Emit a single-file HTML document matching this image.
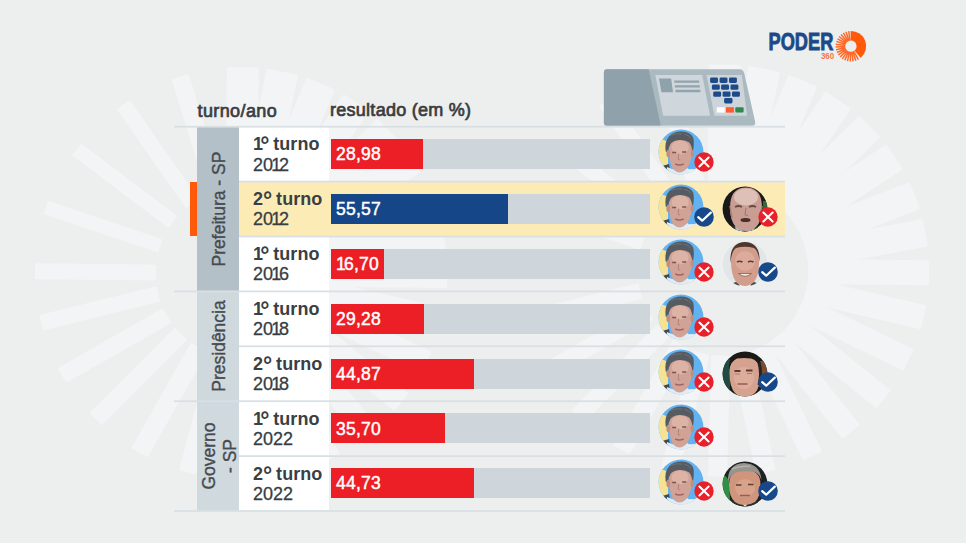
<!DOCTYPE html>
<html><head><meta charset="utf-8">
<style>
html,body{margin:0;padding:0;}
body{width:966px;height:543px;overflow:hidden;position:relative;background:#edeeee;font-family:"Liberation Sans",sans-serif;}
.abs{position:absolute;}
#bg{position:absolute;left:0;top:0;}
.hdr{position:absolute;font-size:18px;color:#383d42;-webkit-text-stroke:0.7px #383d42;white-space:nowrap;line-height:1;}
.hline{position:absolute;height:1px;background:#d3dbdf;}
.cell{position:absolute;left:239px;width:90px;background:#fff;}
.turno{position:absolute;left:253px;font-size:18px;color:#383d42;line-height:20px;white-space:nowrap;}
.turno b{font-weight:bold;letter-spacing:0.05px;color:#3a3f44;}
.turno i{font-style:normal;}
.n1{letter-spacing:-2.8px;}
.deg{font-size:23px;line-height:0;vertical-align:-2.8px;font-weight:bold;letter-spacing:-1.2px;}
.n0{letter-spacing:-1.9px;}
.n1y{letter-spacing:-2.2px;}
.yr{-webkit-text-stroke:0.3px #383d42;}
.track{position:absolute;left:331px;width:319px;height:30px;background:#ced6dc;}
.bar{position:absolute;left:0;top:0;height:30px;background:#ec1f26;}
.bar span{position:absolute;left:5px;top:7.2px;font-size:17.5px;letter-spacing:0.25px;color:#fff;-webkit-text-stroke:0.45px #fff;line-height:1;}
.bar span i{font-style:normal;letter-spacing:-1.8px;}
.cat{position:absolute;left:197px;width:42px;}
.catlbl{position:absolute;font-size:17.5px;color:#454b50;-webkit-text-stroke:0.35px #454b50;white-space:nowrap;line-height:21px;text-align:center;}
.av{position:absolute;width:46px;height:46px;}
</style></head>
<body>
<svg width="0" height="0" style="position:absolute"><defs><clipPath id="cc"><circle cx="23" cy="23" r="22.4"/></clipPath></defs></svg>
<svg id="bg" width="966" height="543" viewBox="0 0 966 543"><g fill="#f3f4f5">
<rect x="85" y="-16.0" width="121" height="32" rx="1.5" transform="translate(241 273.4) rotate(-89.5)"/>
<rect x="85" y="-16.0" width="121" height="32" rx="1.5" transform="translate(241 273.4) rotate(-78.4)"/>
<rect x="85" y="-15.5" width="121" height="31" rx="1.5" transform="translate(241 273.4) rotate(-67.2)"/>
<rect x="85" y="-15.5" width="121" height="31" rx="1.5" transform="translate(241 273.4) rotate(-56)"/>
<rect x="85" y="-15.0" width="121" height="30" rx="1.5" transform="translate(241 273.4) rotate(-44.5)"/>
<rect x="85" y="-15.0" width="121" height="30" rx="1.5" transform="translate(241 273.4) rotate(-33.6)"/>
<rect x="85" y="-14.5" width="121" height="29" rx="1.5" transform="translate(241 273.4) rotate(-21.4)"/>
<rect x="85" y="-14.0" width="121" height="28" rx="1.5" transform="translate(241 273.4) rotate(-10.6)"/>
<rect x="85" y="-12.5" width="121" height="25" rx="1.5" transform="translate(241 273.4) rotate(0.6)"/>
<rect x="85" y="-12.25" width="121" height="24.5" rx="1.5" transform="translate(241 273.4) rotate(13.1)"/>
<rect x="85" y="-12.0" width="121" height="24" rx="1.5" transform="translate(241 273.4) rotate(25.7)"/>
<rect x="85" y="-11.5" width="121" height="23" rx="1.5" transform="translate(241 273.4) rotate(38.7)"/>
<rect x="85" y="-11.25" width="121" height="22.5" rx="1.5" transform="translate(241 273.4) rotate(51.5)"/>
<rect x="85" y="-10.5" width="121" height="21" rx="1.5" transform="translate(241 273.4) rotate(64.2)"/>
<rect x="85" y="-10.0" width="121" height="20" rx="1.5" transform="translate(241 273.4) rotate(78)"/>
<rect x="85" y="-9.5" width="121" height="19" rx="1.5" transform="translate(241 273.4) rotate(91.5)"/>
<rect x="85" y="-9.0" width="121" height="18" rx="1.5" transform="translate(241 273.4) rotate(105)"/>
<rect x="85" y="-9.5" width="121" height="19" rx="1.5" transform="translate(241 273.4) rotate(119.5)"/>
<rect x="85" y="-8.75" width="121" height="17.5" rx="1.5" transform="translate(241 273.4) rotate(134.9)"/>
<rect x="85" y="-8.5" width="121" height="17" rx="1.5" transform="translate(241 273.4) rotate(150.3)"/>
<rect x="85" y="-8.0" width="121" height="16" rx="1.5" transform="translate(241 273.4) rotate(166.1)"/>
<rect x="85" y="-8.0" width="121" height="16" rx="1.5" transform="translate(241 273.4) rotate(-179.4)"/>
<rect x="85" y="-7.0" width="121" height="14" rx="1.5" transform="translate(241 273.4) rotate(-161.3)"/>
<rect x="85" y="-7.5" width="121" height="15" rx="1.5" transform="translate(241 273.4) rotate(-143)"/>
<rect x="85" y="-8.0" width="121" height="16" rx="1.5" transform="translate(241 273.4) rotate(-124.9)"/>
<rect x="85" y="-9.0" width="121" height="18" rx="1.5" transform="translate(241 273.4) rotate(-107.2)"/>
<rect x="85" y="-16.0" width="121" height="32" rx="1.5" transform="translate(723 270.6) rotate(-89.5)"/>
<rect x="85" y="-16.0" width="121" height="32" rx="1.5" transform="translate(723 270.6) rotate(-78.4)"/>
<rect x="85" y="-15.5" width="121" height="31" rx="1.5" transform="translate(723 270.6) rotate(-67.2)"/>
<rect x="85" y="-15.5" width="121" height="31" rx="1.5" transform="translate(723 270.6) rotate(-56)"/>
<rect x="85" y="-15.0" width="121" height="30" rx="1.5" transform="translate(723 270.6) rotate(-44.5)"/>
<rect x="85" y="-15.0" width="121" height="30" rx="1.5" transform="translate(723 270.6) rotate(-33.6)"/>
<rect x="85" y="-14.5" width="121" height="29" rx="1.5" transform="translate(723 270.6) rotate(-21.4)"/>
<rect x="85" y="-14.0" width="121" height="28" rx="1.5" transform="translate(723 270.6) rotate(-10.6)"/>
<rect x="85" y="-12.5" width="121" height="25" rx="1.5" transform="translate(723 270.6) rotate(0.6)"/>
<rect x="85" y="-12.25" width="121" height="24.5" rx="1.5" transform="translate(723 270.6) rotate(13.1)"/>
<rect x="85" y="-12.0" width="121" height="24" rx="1.5" transform="translate(723 270.6) rotate(25.7)"/>
<rect x="85" y="-11.5" width="121" height="23" rx="1.5" transform="translate(723 270.6) rotate(38.7)"/>
<rect x="85" y="-11.25" width="121" height="22.5" rx="1.5" transform="translate(723 270.6) rotate(51.5)"/>
<rect x="85" y="-10.5" width="121" height="21" rx="1.5" transform="translate(723 270.6) rotate(64.2)"/>
<rect x="85" y="-10.0" width="121" height="20" rx="1.5" transform="translate(723 270.6) rotate(78)"/>
<rect x="85" y="-9.5" width="121" height="19" rx="1.5" transform="translate(723 270.6) rotate(91.5)"/>
<rect x="85" y="-9.0" width="121" height="18" rx="1.5" transform="translate(723 270.6) rotate(105)"/>
<rect x="85" y="-9.5" width="121" height="19" rx="1.5" transform="translate(723 270.6) rotate(119.5)"/>
<rect x="85" y="-8.75" width="121" height="17.5" rx="1.5" transform="translate(723 270.6) rotate(134.9)"/>
<rect x="85" y="-8.5" width="121" height="17" rx="1.5" transform="translate(723 270.6) rotate(150.3)"/>
<rect x="85" y="-8.0" width="121" height="16" rx="1.5" transform="translate(723 270.6) rotate(166.1)"/>
<rect x="85" y="-8.0" width="121" height="16" rx="1.5" transform="translate(723 270.6) rotate(-179.4)"/>
<rect x="85" y="-7.0" width="121" height="14" rx="1.5" transform="translate(723 270.6) rotate(-161.3)"/>
<rect x="85" y="-7.5" width="121" height="15" rx="1.5" transform="translate(723 270.6) rotate(-143)"/>
<rect x="85" y="-8.0" width="121" height="16" rx="1.5" transform="translate(723 270.6) rotate(-124.9)"/>
<rect x="85" y="-9.0" width="121" height="18" rx="1.5" transform="translate(723 270.6) rotate(-107.2)"/>
</g></svg>
<svg class="abs" style="left:0;top:0" width="966" height="543" viewBox="0 0 966 543">
<text x="768.5" y="49.7" font-family="Liberation Sans" font-weight="bold" font-size="24.5" fill="#1b4a88" stroke="#1b4a88" stroke-width="0.9" textLength="64.8" lengthAdjust="spacingAndGlyphs">PODER</text>
<text x="820.9" y="59.1" font-family="Liberation Sans" font-weight="bold" font-size="9.5" fill="#f4763f" textLength="13.2" lengthAdjust="spacingAndGlyphs">360</text>
<path d="M850.63 30.90 A15.3 15.3 0 0 1 860.73 57.92 L854.50 50.49 A5.6 5.6 0 0 0 850.80 40.60 Z" fill="#ff5a0a"/>
<path d="M853.65 51.08L858.41 59.53M852.71 51.50L855.84 60.68M851.70 51.74L853.09 61.34M850.67 51.80L850.27 61.49M849.65 51.66L847.47 61.11M848.66 51.33L844.79 60.23M847.76 50.84L842.32 58.87M846.96 50.18L840.14 57.07M846.30 49.39L838.32 54.91M845.79 48.49L836.94 52.45M845.46 47.51L836.02 49.78M845.31 46.49L835.62 46.99M845.35 45.45L835.74 44.16M845.58 44.45L836.37 41.41M845.99 43.50L837.50 38.82M846.57 42.64L839.08 36.49M847.30 41.91L841.07 34.48M848.15 41.32L843.39 32.87M849.09 40.90L845.96 31.72M850.10 40.66L848.71 31.06" stroke="#ff6a2a" stroke-width="1.5"/>
</svg>
<svg class="abs" style="left:0;top:0" width="966" height="543" viewBox="0 0 966 543">
<path d="M607 69.2 L739 69.2 Q743.5 69.2 744.3 73.5 L755.2 122 Q755.8 125.8 752 125.8 L607 125.8 Q603.9 125.8 603.9 122.6 L603.9 72.4 Q603.9 69.2 607 69.2 Z" fill="#abb9c1"/>
<path d="M607 69.2 L648.6 69.2 L660.8 125.8 L607 125.8 Q603.9 125.8 603.9 122.6 L603.9 72.4 Q603.9 69.2 607 69.2 Z" fill="#8fa1aa"/>
<path d="M655.3 75 L702.2 75 L710.1 115.8 L663.2 115.8 Z" fill="#cfd7dc"/>
<path d="M659 78.6 L671.1 78.6 L673 92.2 L661.4 92.2 Z" fill="#8fa1aa"/>
<path d="M674.3 81.6 H699.2 M674.9 86.3 H699.8 M675.5 91 H700.4" stroke="#91a3ac" stroke-width="2.3"/>
<path d="M706.5 75 L741.8 75 L747.2 115.8 L714.4 115.8 Z" fill="#cdd5da"/>
<g fill="#1d4a8a">
<rect x="710.1" y="77.4" width="7.9" height="5.5" rx="1.4"/><rect x="719.6" y="77.4" width="7.9" height="5.5" rx="1.4"/><rect x="729" y="77.4" width="7.9" height="5.5" rx="1.4"/>
<rect x="711.9" y="84.5" width="7.9" height="5.3" rx="1.4"/><rect x="721.1" y="84.5" width="7.9" height="5.3" rx="1.4"/><rect x="730.5" y="84.5" width="7.9" height="5.3" rx="1.4"/>
<rect x="713.2" y="91.4" width="7.9" height="5.4" rx="1.4"/><rect x="722.6" y="91.4" width="7.9" height="5.4" rx="1.4"/><rect x="732" y="91.4" width="7.9" height="5.4" rx="1.4"/>
<rect x="724.1" y="98" width="8.4" height="5.5" rx="1.4"/>
</g>
<rect x="716.8" y="107.2" width="7.9" height="5.4" fill="#ffffff"/>
<rect x="726" y="107.2" width="7.9" height="5.4" fill="#ff5b2b"/>
<rect x="735.3" y="107.2" width="8.3" height="5.4" rx="1" fill="#2b8a4c"/>
</svg>

<div class="hdr" style="left:197.5px;top:102.2px;letter-spacing:0.4px;">turno/ano</div>
<div class="hdr" style="left:330px;top:101.2px;letter-spacing:0.27px;">resultado (em %)</div>
<div class="cat" style="top:126.70px;height:164.70px;background:#b4c0c7;"></div>
<div class="catlbl" style="left:219.3px;top:209.05px;transform:translate(-50%,-50%) rotate(-90deg);">Prefeitura - SP</div>
<div class="cat" style="top:291.40px;height:109.80px;background:#cfd8dd;"></div>
<div class="catlbl" style="left:219.3px;top:346.30px;transform:translate(-50%,-50%) rotate(-90deg);">Presidência</div>
<div class="cat" style="top:401.20px;height:109.80px;background:#d0d9de;"></div>
<div class="catlbl" style="left:219.6px;top:456.10px;transform:translate(-50%,-50%) rotate(-90deg);">Governo<br>- SP</div>
<div class="cell" style="top:126.70px;height:54.90px;"></div>
<div class="turno" style="top:134.20px;"><b><i class="n1">1</i><i class="deg">°</i> turno</b></div>
<div class="turno yr" style="top:154.50px;">2<i class="n0">0</i><i class="n1y">1</i>2</div>
<div class="track" style="top:138.90px;"><div class="bar" style="width:92.4px;background:#ec1f26;"><span>28,98</span></div></div>
<svg class="av" style="left:658px;top:129.20px;" width="46" height="46" viewBox="0 0 46 46"><g clip-path="url(#cc)">
  <rect x="0" y="0" width="46" height="46" fill="#62b1f1"/>
  <path d="M0 10 Q7 10 10 14 L10 38 Q6 40 0 40 Z" fill="#f4e394"/>
  <path d="M20 46 L28 40 Q40 41 46 37 L46 46 Z" fill="#eef1f4"/>
  <path d="M4 37 L11 35 L12 41 L5 43 Z" fill="#3f4856"/>
  <path d="M9 38 Q20 44 30 39 L32 46 L8 46 Z" fill="#e2eaf3"/>
  <g transform="translate(-1.8 0.5)">
  <path d="M13 20 Q12.5 8 24 8 Q35.5 8 35.5 20 Q36 31 31 38.5 Q27 43 23 43 Q18 42.5 15.5 37 Q13 30 13 20 Z" fill="#d1a296"/>
  <ellipse cx="24" cy="18" rx="8.5" ry="7" fill="#ddb3a6"/>
  <path d="M9.5 22 Q8 12 13.5 6 Q19 1.5 26 2 Q34 2.5 37 8 Q38.5 14 36.5 23 Q35.5 16 33 13 Q29 10 23 10.5 Q16 11 14 15 Q12 18 12 23 Z" fill="#565b62"/>
  <path d="M14 6 Q20 3.5 26 4.5 M28 4.5 Q33 6 35 9" stroke="#6d737a" stroke-width="1" fill="none"/>
  <ellipse cx="12" cy="24" rx="1.8" ry="3.8" fill="#c08f80"/>
  <ellipse cx="36" cy="24" rx="1.6" ry="3.6" fill="#c08f80"/>
  <path d="M16 23 h4 M26 22.5 h4" stroke="#7a5550" stroke-width="1.5"/>
  <path d="M22.5 24 L22 30 L24 30.5" stroke="#b08072" stroke-width="0.9" fill="none"/>
  <path d="M19 34.5 Q23 36.5 27.5 34.5" stroke="#a8625e" stroke-width="1.4" fill="none"/>
  </g></g></svg>
<svg class="abs" style="left:694px;top:152.00px;" width="20" height="20" viewBox="0 0 20 20"><g><circle cx="10" cy="10" r="9.7" fill="#e8202a"/><path d="M5.4 5.5 L14.6 14.5 M14.6 5.5 L5.4 14.5" stroke="#fff" stroke-width="2.1" stroke-linecap="round"/></g></svg>
<div class="abs" style="left:239px;top:181.60px;width:546px;height:54.90px;background:#fdebb5;"></div>
<div class="abs" style="left:190px;top:181.60px;width:7px;height:54.90px;background:#ff5a0a;"></div>
<div class="turno" style="top:189.10px;"><b>2<i class="deg">°</i> turno</b></div>
<div class="turno yr" style="top:209.40px;">2<i class="n0">0</i><i class="n1y">1</i>2</div>
<div class="track" style="top:193.80px;"><div class="bar" style="width:177.3px;background:#154687;"><span>55,57</span></div></div>
<svg class="av" style="left:658px;top:184.10px;" width="46" height="46" viewBox="0 0 46 46"><g clip-path="url(#cc)">
  <rect x="0" y="0" width="46" height="46" fill="#62b1f1"/>
  <path d="M0 10 Q7 10 10 14 L10 38 Q6 40 0 40 Z" fill="#f4e394"/>
  <path d="M20 46 L28 40 Q40 41 46 37 L46 46 Z" fill="#eef1f4"/>
  <path d="M4 37 L11 35 L12 41 L5 43 Z" fill="#3f4856"/>
  <path d="M9 38 Q20 44 30 39 L32 46 L8 46 Z" fill="#e2eaf3"/>
  <g transform="translate(-1.8 0.5)">
  <path d="M13 20 Q12.5 8 24 8 Q35.5 8 35.5 20 Q36 31 31 38.5 Q27 43 23 43 Q18 42.5 15.5 37 Q13 30 13 20 Z" fill="#d1a296"/>
  <ellipse cx="24" cy="18" rx="8.5" ry="7" fill="#ddb3a6"/>
  <path d="M9.5 22 Q8 12 13.5 6 Q19 1.5 26 2 Q34 2.5 37 8 Q38.5 14 36.5 23 Q35.5 16 33 13 Q29 10 23 10.5 Q16 11 14 15 Q12 18 12 23 Z" fill="#565b62"/>
  <path d="M14 6 Q20 3.5 26 4.5 M28 4.5 Q33 6 35 9" stroke="#6d737a" stroke-width="1" fill="none"/>
  <ellipse cx="12" cy="24" rx="1.8" ry="3.8" fill="#c08f80"/>
  <ellipse cx="36" cy="24" rx="1.6" ry="3.6" fill="#c08f80"/>
  <path d="M16 23 h4 M26 22.5 h4" stroke="#7a5550" stroke-width="1.5"/>
  <path d="M22.5 24 L22 30 L24 30.5" stroke="#b08072" stroke-width="0.9" fill="none"/>
  <path d="M19 34.5 Q23 36.5 27.5 34.5" stroke="#a8625e" stroke-width="1.4" fill="none"/>
  </g></g></svg>
<svg class="abs" style="left:694px;top:206.90px;" width="20" height="20" viewBox="0 0 20 20"><g><circle cx="10" cy="10" r="9.8" fill="#17488a"/><path d="M4.2 10.2 L8.2 13.7 L16.8 5.6" stroke="#fff" stroke-width="2.2" fill="none" stroke-linecap="round" stroke-linejoin="round"/></g></svg>
<svg class="av" style="left:722px;top:186.10px;" width="46" height="46" viewBox="0 0 46 46"><g clip-path="url(#cc)">
  <rect x="0" y="0" width="46" height="46" fill="#181919"/>
  <rect x="41" y="15" width="5" height="9" fill="#2d6a3c"/>
  <path d="M4 46 Q9 38 23 38 Q37 38 42 46 Z" fill="#2a3038"/>
  <path d="M13 40 L23 46 L33 40 L32 46 L14 46 Z" fill="#a9bcd6"/>
  <path d="M8 22 Q8 1.5 24 1.5 Q40 1.5 40 22 Q40 35 34 41 Q29 45 24 45 Q18 45 14 41 Q8 35 8 22 Z" fill="#c99d92"/>
  <ellipse cx="24" cy="11" rx="12" ry="8.5" fill="#dfc0b8"/>
  <path d="M13 21 Q16.5 19 20 21 M27 21 Q30.5 19 34 21" stroke="#6a4a45" stroke-width="1.8" fill="none"/>
  <path d="M24 22 L23 29 L26 29.5" stroke="#a0766c" stroke-width="1" fill="none"/>
  <ellipse cx="23.5" cy="34" rx="5" ry="2" fill="#4a2e2c"/>
  <path d="M8 20 L10 32 M40 20 L38 32" stroke="#a98077" stroke-width="1.5"/></g></svg>
<svg class="abs" style="left:758px;top:206.90px;" width="20" height="20" viewBox="0 0 20 20"><g><circle cx="10" cy="10" r="9.7" fill="#e8202a"/><path d="M5.4 5.5 L14.6 14.5 M14.6 5.5 L5.4 14.5" stroke="#fff" stroke-width="2.1" stroke-linecap="round"/></g></svg>
<div class="cell" style="top:236.50px;height:54.90px;"></div>
<div class="turno" style="top:244.00px;"><b><i class="n1">1</i><i class="deg">°</i> turno</b></div>
<div class="turno yr" style="top:264.30px;">2<i class="n0">0</i><i class="n1y">1</i>6</div>
<div class="track" style="top:248.70px;"><div class="bar" style="width:53.3px;background:#ec1f26;"><span><i>1</i>6,70</span></div></div>
<svg class="av" style="left:658px;top:239.00px;" width="46" height="46" viewBox="0 0 46 46"><g clip-path="url(#cc)">
  <rect x="0" y="0" width="46" height="46" fill="#62b1f1"/>
  <path d="M0 10 Q7 10 10 14 L10 38 Q6 40 0 40 Z" fill="#f4e394"/>
  <path d="M20 46 L28 40 Q40 41 46 37 L46 46 Z" fill="#eef1f4"/>
  <path d="M4 37 L11 35 L12 41 L5 43 Z" fill="#3f4856"/>
  <path d="M9 38 Q20 44 30 39 L32 46 L8 46 Z" fill="#e2eaf3"/>
  <g transform="translate(-1.8 0.5)">
  <path d="M13 20 Q12.5 8 24 8 Q35.5 8 35.5 20 Q36 31 31 38.5 Q27 43 23 43 Q18 42.5 15.5 37 Q13 30 13 20 Z" fill="#d1a296"/>
  <ellipse cx="24" cy="18" rx="8.5" ry="7" fill="#ddb3a6"/>
  <path d="M9.5 22 Q8 12 13.5 6 Q19 1.5 26 2 Q34 2.5 37 8 Q38.5 14 36.5 23 Q35.5 16 33 13 Q29 10 23 10.5 Q16 11 14 15 Q12 18 12 23 Z" fill="#565b62"/>
  <path d="M14 6 Q20 3.5 26 4.5 M28 4.5 Q33 6 35 9" stroke="#6d737a" stroke-width="1" fill="none"/>
  <ellipse cx="12" cy="24" rx="1.8" ry="3.8" fill="#c08f80"/>
  <ellipse cx="36" cy="24" rx="1.6" ry="3.6" fill="#c08f80"/>
  <path d="M16 23 h4 M26 22.5 h4" stroke="#7a5550" stroke-width="1.5"/>
  <path d="M22.5 24 L22 30 L24 30.5" stroke="#b08072" stroke-width="0.9" fill="none"/>
  <path d="M19 34.5 Q23 36.5 27.5 34.5" stroke="#a8625e" stroke-width="1.4" fill="none"/>
  </g></g></svg>
<svg class="abs" style="left:694px;top:261.80px;" width="20" height="20" viewBox="0 0 20 20"><g><circle cx="10" cy="10" r="9.7" fill="#e8202a"/><path d="M5.4 5.5 L14.6 14.5 M14.6 5.5 L5.4 14.5" stroke="#fff" stroke-width="2.1" stroke-linecap="round"/></g></svg>
<svg class="av" style="left:722px;top:241.00px;" width="46" height="46" viewBox="0 0 46 46"><g clip-path="url(#cc)">
  <rect x="0" y="0" width="46" height="46" fill="#e3e6e9"/>
  <path d="M6 46 Q10 40 23 40 Q36 40 40 46 Z" fill="#f3f5f6"/>
  <path d="M9 43 L16 40 L18 46 L8 46 Z M37 43 L30 40 L28 46 L38 46 Z" fill="#4a4e55"/>
  <path d="M9 20 Q8.5 4 23 3.5 Q37.5 4 37 20 Q37.5 34 32 41 Q27.5 45 23 45 Q18 45 14 41 Q9 34 9 20 Z" fill="#d39d8c"/>
  <ellipse cx="23" cy="20" rx="10" ry="10" fill="#dcab9b"/>
  <path d="M8.5 22 Q7 1.5 23 1 Q38.5 1.5 37.5 21 Q36.5 10 32 7 Q23 4.5 14 7 Q9.5 10 8.5 22 Z" fill="#4f372e"/>
  <path d="M15 21 Q17.5 19.5 20.5 21 M26 21 Q28.5 19.5 31.5 21" stroke="#5e3f36" stroke-width="1.7" fill="none"/>
  <path d="M16.5 32.5 Q23 38 29.5 32.5 Z" fill="#f4ece8" stroke="#8c5a4e" stroke-width="0.8"/></g></svg>
<svg class="abs" style="left:758px;top:261.80px;" width="20" height="20" viewBox="0 0 20 20"><g><circle cx="10" cy="10" r="9.8" fill="#17488a"/><path d="M4.2 10.2 L8.2 13.7 L16.8 5.6" stroke="#fff" stroke-width="2.2" fill="none" stroke-linecap="round" stroke-linejoin="round"/></g></svg>
<div class="cell" style="top:291.40px;height:54.90px;"></div>
<div class="turno" style="top:298.90px;"><b><i class="n1">1</i><i class="deg">°</i> turno</b></div>
<div class="turno yr" style="top:319.20px;">2<i class="n0">0</i><i class="n1y">1</i>8</div>
<div class="track" style="top:303.60px;"><div class="bar" style="width:93.4px;background:#ec1f26;"><span>29,28</span></div></div>
<svg class="av" style="left:658px;top:293.90px;" width="46" height="46" viewBox="0 0 46 46"><g clip-path="url(#cc)">
  <rect x="0" y="0" width="46" height="46" fill="#62b1f1"/>
  <path d="M0 10 Q7 10 10 14 L10 38 Q6 40 0 40 Z" fill="#f4e394"/>
  <path d="M20 46 L28 40 Q40 41 46 37 L46 46 Z" fill="#eef1f4"/>
  <path d="M4 37 L11 35 L12 41 L5 43 Z" fill="#3f4856"/>
  <path d="M9 38 Q20 44 30 39 L32 46 L8 46 Z" fill="#e2eaf3"/>
  <g transform="translate(-1.8 0.5)">
  <path d="M13 20 Q12.5 8 24 8 Q35.5 8 35.5 20 Q36 31 31 38.5 Q27 43 23 43 Q18 42.5 15.5 37 Q13 30 13 20 Z" fill="#d1a296"/>
  <ellipse cx="24" cy="18" rx="8.5" ry="7" fill="#ddb3a6"/>
  <path d="M9.5 22 Q8 12 13.5 6 Q19 1.5 26 2 Q34 2.5 37 8 Q38.5 14 36.5 23 Q35.5 16 33 13 Q29 10 23 10.5 Q16 11 14 15 Q12 18 12 23 Z" fill="#565b62"/>
  <path d="M14 6 Q20 3.5 26 4.5 M28 4.5 Q33 6 35 9" stroke="#6d737a" stroke-width="1" fill="none"/>
  <ellipse cx="12" cy="24" rx="1.8" ry="3.8" fill="#c08f80"/>
  <ellipse cx="36" cy="24" rx="1.6" ry="3.6" fill="#c08f80"/>
  <path d="M16 23 h4 M26 22.5 h4" stroke="#7a5550" stroke-width="1.5"/>
  <path d="M22.5 24 L22 30 L24 30.5" stroke="#b08072" stroke-width="0.9" fill="none"/>
  <path d="M19 34.5 Q23 36.5 27.5 34.5" stroke="#a8625e" stroke-width="1.4" fill="none"/>
  </g></g></svg>
<svg class="abs" style="left:694px;top:316.70px;" width="20" height="20" viewBox="0 0 20 20"><g><circle cx="10" cy="10" r="9.7" fill="#e8202a"/><path d="M5.4 5.5 L14.6 14.5 M14.6 5.5 L5.4 14.5" stroke="#fff" stroke-width="2.1" stroke-linecap="round"/></g></svg>
<div class="cell" style="top:346.30px;height:54.90px;"></div>
<div class="turno" style="top:353.80px;"><b>2<i class="deg">°</i> turno</b></div>
<div class="turno yr" style="top:374.10px;">2<i class="n0">0</i><i class="n1y">1</i>8</div>
<div class="track" style="top:358.50px;"><div class="bar" style="width:143.1px;background:#ec1f26;"><span>44,87</span></div></div>
<svg class="av" style="left:658px;top:348.80px;" width="46" height="46" viewBox="0 0 46 46"><g clip-path="url(#cc)">
  <rect x="0" y="0" width="46" height="46" fill="#62b1f1"/>
  <path d="M0 10 Q7 10 10 14 L10 38 Q6 40 0 40 Z" fill="#f4e394"/>
  <path d="M20 46 L28 40 Q40 41 46 37 L46 46 Z" fill="#eef1f4"/>
  <path d="M4 37 L11 35 L12 41 L5 43 Z" fill="#3f4856"/>
  <path d="M9 38 Q20 44 30 39 L32 46 L8 46 Z" fill="#e2eaf3"/>
  <g transform="translate(-1.8 0.5)">
  <path d="M13 20 Q12.5 8 24 8 Q35.5 8 35.5 20 Q36 31 31 38.5 Q27 43 23 43 Q18 42.5 15.5 37 Q13 30 13 20 Z" fill="#d1a296"/>
  <ellipse cx="24" cy="18" rx="8.5" ry="7" fill="#ddb3a6"/>
  <path d="M9.5 22 Q8 12 13.5 6 Q19 1.5 26 2 Q34 2.5 37 8 Q38.5 14 36.5 23 Q35.5 16 33 13 Q29 10 23 10.5 Q16 11 14 15 Q12 18 12 23 Z" fill="#565b62"/>
  <path d="M14 6 Q20 3.5 26 4.5 M28 4.5 Q33 6 35 9" stroke="#6d737a" stroke-width="1" fill="none"/>
  <ellipse cx="12" cy="24" rx="1.8" ry="3.8" fill="#c08f80"/>
  <ellipse cx="36" cy="24" rx="1.6" ry="3.6" fill="#c08f80"/>
  <path d="M16 23 h4 M26 22.5 h4" stroke="#7a5550" stroke-width="1.5"/>
  <path d="M22.5 24 L22 30 L24 30.5" stroke="#b08072" stroke-width="0.9" fill="none"/>
  <path d="M19 34.5 Q23 36.5 27.5 34.5" stroke="#a8625e" stroke-width="1.4" fill="none"/>
  </g></g></svg>
<svg class="abs" style="left:694px;top:371.60px;" width="20" height="20" viewBox="0 0 20 20"><g><circle cx="10" cy="10" r="9.7" fill="#e8202a"/><path d="M5.4 5.5 L14.6 14.5 M14.6 5.5 L5.4 14.5" stroke="#fff" stroke-width="2.1" stroke-linecap="round"/></g></svg>
<svg class="av" style="left:722px;top:350.80px;" width="46" height="46" viewBox="0 0 46 46"><g clip-path="url(#cc)">
  <rect x="0" y="0" width="46" height="46" fill="#191b1a"/>
  <path d="M0 8 L8 8 L8 42 L0 42 Z" fill="#1f4b41"/>
  <path d="M37 10 L46 10 L46 36 L37 36 Z" fill="#7a4c34"/>
  <path d="M7.5 22 Q7 5 22.5 5 Q38 5 38 22 Q38.5 36 33 42 Q28 46 22.5 46 Q17 46 13 42 Q7.5 36 7.5 22 Z" fill="#d6a290"/>
  <ellipse cx="22" cy="27" rx="10" ry="11" fill="#ddad9c"/>
  <path d="M7 19 Q6 2 23 1 Q40 2 39.5 20 Q36 9 29 7.5 Q22 6.5 15 7.5 Q9 10 7 19 Z" fill="#1c1917"/>
  <path d="M37 12 Q40 22 37 34" stroke="#2a2220" stroke-width="3" fill="none"/>
  <path d="M12.5 20 h6 M24 19.5 h6.5" stroke="#5e3a30" stroke-width="1.9"/>
  <path d="M13 23 h5 M25 22.5 h5" stroke="#a8776a" stroke-width="1"/>
  <path d="M15.5 33 h10" stroke="#9a5a50" stroke-width="1.5"/></g></svg>
<svg class="abs" style="left:758px;top:371.60px;" width="20" height="20" viewBox="0 0 20 20"><g><circle cx="10" cy="10" r="9.8" fill="#17488a"/><path d="M4.2 10.2 L8.2 13.7 L16.8 5.6" stroke="#fff" stroke-width="2.2" fill="none" stroke-linecap="round" stroke-linejoin="round"/></g></svg>
<div class="cell" style="top:401.20px;height:54.90px;"></div>
<div class="turno" style="top:408.70px;"><b><i class="n1">1</i><i class="deg">°</i> turno</b></div>
<div class="turno yr" style="top:429.00px;">2022</div>
<div class="track" style="top:413.40px;"><div class="bar" style="width:113.9px;background:#ec1f26;"><span>35,70</span></div></div>
<svg class="av" style="left:658px;top:403.70px;" width="46" height="46" viewBox="0 0 46 46"><g clip-path="url(#cc)">
  <rect x="0" y="0" width="46" height="46" fill="#62b1f1"/>
  <path d="M0 10 Q7 10 10 14 L10 38 Q6 40 0 40 Z" fill="#f4e394"/>
  <path d="M20 46 L28 40 Q40 41 46 37 L46 46 Z" fill="#eef1f4"/>
  <path d="M4 37 L11 35 L12 41 L5 43 Z" fill="#3f4856"/>
  <path d="M9 38 Q20 44 30 39 L32 46 L8 46 Z" fill="#e2eaf3"/>
  <g transform="translate(-1.8 0.5)">
  <path d="M13 20 Q12.5 8 24 8 Q35.5 8 35.5 20 Q36 31 31 38.5 Q27 43 23 43 Q18 42.5 15.5 37 Q13 30 13 20 Z" fill="#d1a296"/>
  <ellipse cx="24" cy="18" rx="8.5" ry="7" fill="#ddb3a6"/>
  <path d="M9.5 22 Q8 12 13.5 6 Q19 1.5 26 2 Q34 2.5 37 8 Q38.5 14 36.5 23 Q35.5 16 33 13 Q29 10 23 10.5 Q16 11 14 15 Q12 18 12 23 Z" fill="#565b62"/>
  <path d="M14 6 Q20 3.5 26 4.5 M28 4.5 Q33 6 35 9" stroke="#6d737a" stroke-width="1" fill="none"/>
  <ellipse cx="12" cy="24" rx="1.8" ry="3.8" fill="#c08f80"/>
  <ellipse cx="36" cy="24" rx="1.6" ry="3.6" fill="#c08f80"/>
  <path d="M16 23 h4 M26 22.5 h4" stroke="#7a5550" stroke-width="1.5"/>
  <path d="M22.5 24 L22 30 L24 30.5" stroke="#b08072" stroke-width="0.9" fill="none"/>
  <path d="M19 34.5 Q23 36.5 27.5 34.5" stroke="#a8625e" stroke-width="1.4" fill="none"/>
  </g></g></svg>
<svg class="abs" style="left:694px;top:426.50px;" width="20" height="20" viewBox="0 0 20 20"><g><circle cx="10" cy="10" r="9.7" fill="#e8202a"/><path d="M5.4 5.5 L14.6 14.5 M14.6 5.5 L5.4 14.5" stroke="#fff" stroke-width="2.1" stroke-linecap="round"/></g></svg>
<div class="cell" style="top:456.10px;height:54.90px;"></div>
<div class="turno" style="top:463.60px;"><b>2<i class="deg">°</i> turno</b></div>
<div class="turno yr" style="top:483.90px;">2022</div>
<div class="track" style="top:468.30px;"><div class="bar" style="width:142.7px;background:#ec1f26;"><span>44,73</span></div></div>
<svg class="av" style="left:658px;top:458.60px;" width="46" height="46" viewBox="0 0 46 46"><g clip-path="url(#cc)">
  <rect x="0" y="0" width="46" height="46" fill="#62b1f1"/>
  <path d="M0 10 Q7 10 10 14 L10 38 Q6 40 0 40 Z" fill="#f4e394"/>
  <path d="M20 46 L28 40 Q40 41 46 37 L46 46 Z" fill="#eef1f4"/>
  <path d="M4 37 L11 35 L12 41 L5 43 Z" fill="#3f4856"/>
  <path d="M9 38 Q20 44 30 39 L32 46 L8 46 Z" fill="#e2eaf3"/>
  <g transform="translate(-1.8 0.5)">
  <path d="M13 20 Q12.5 8 24 8 Q35.5 8 35.5 20 Q36 31 31 38.5 Q27 43 23 43 Q18 42.5 15.5 37 Q13 30 13 20 Z" fill="#d1a296"/>
  <ellipse cx="24" cy="18" rx="8.5" ry="7" fill="#ddb3a6"/>
  <path d="M9.5 22 Q8 12 13.5 6 Q19 1.5 26 2 Q34 2.5 37 8 Q38.5 14 36.5 23 Q35.5 16 33 13 Q29 10 23 10.5 Q16 11 14 15 Q12 18 12 23 Z" fill="#565b62"/>
  <path d="M14 6 Q20 3.5 26 4.5 M28 4.5 Q33 6 35 9" stroke="#6d737a" stroke-width="1" fill="none"/>
  <ellipse cx="12" cy="24" rx="1.8" ry="3.8" fill="#c08f80"/>
  <ellipse cx="36" cy="24" rx="1.6" ry="3.6" fill="#c08f80"/>
  <path d="M16 23 h4 M26 22.5 h4" stroke="#7a5550" stroke-width="1.5"/>
  <path d="M22.5 24 L22 30 L24 30.5" stroke="#b08072" stroke-width="0.9" fill="none"/>
  <path d="M19 34.5 Q23 36.5 27.5 34.5" stroke="#a8625e" stroke-width="1.4" fill="none"/>
  </g></g></svg>
<svg class="abs" style="left:694px;top:481.40px;" width="20" height="20" viewBox="0 0 20 20"><g><circle cx="10" cy="10" r="9.7" fill="#e8202a"/><path d="M5.4 5.5 L14.6 14.5 M14.6 5.5 L5.4 14.5" stroke="#fff" stroke-width="2.1" stroke-linecap="round"/></g></svg>
<svg class="av" style="left:722px;top:460.60px;" width="46" height="46" viewBox="0 0 46 46"><g clip-path="url(#cc)">
  <rect x="0" y="0" width="46" height="46" fill="#1f2120"/>
  <path d="M0 14 Q5 14 7 21 L8 40 L0 40 Z" fill="#2f8f45"/>
  <path d="M4 46 Q9 38 23 38 Q37 38 42 46 Z" fill="#2b2e33"/>
  <path d="M18 40 L23 46 L28 40 Z" fill="#e8ecef"/>
  <path d="M7 24 Q7 9 23 8.5 Q39 9 38.5 24 Q38.5 36 33 41 Q28 44 23 44 Q17 44 13 41 Q7 36 7 24 Z" fill="#cf957d"/>
  <ellipse cx="23" cy="27" rx="10" ry="9" fill="#d8a28b"/>
  <path d="M6 21 Q5 3 22 2 Q38 2.5 39.5 19 Q37 11 30 10.5 Q22 10 15 11 Q9 13 6 21 Z" fill="#97938e"/>
  <path d="M10 8 Q18 4.5 28 5.5" stroke="#b5b1ac" stroke-width="1.4" fill="none"/>
  <path d="M14 24 h5.5 M26 23.5 h5.5" stroke="#5e3f36" stroke-width="1.7"/>
  <path d="M18 34.5 h10" stroke="#9a5e55" stroke-width="1.3"/></g></svg>
<svg class="abs" style="left:758px;top:481.40px;" width="20" height="20" viewBox="0 0 20 20"><g><circle cx="10" cy="10" r="9.8" fill="#17488a"/><path d="M4.2 10.2 L8.2 13.7 L16.8 5.6" stroke="#fff" stroke-width="2.2" fill="none" stroke-linecap="round" stroke-linejoin="round"/></g></svg>
<svg class="abs" style="left:0;top:0" width="966" height="543"><g fill="#d9e0e4">
<rect x="174" y="125.80" width="611" height="1.8"/>
<rect x="239" y="180.70" width="546" height="1.8"/>
<rect x="239" y="235.60" width="546" height="1.8"/>
<rect x="174" y="290.50" width="611" height="1.8"/>
<rect x="239" y="345.40" width="546" height="1.8"/>
<rect x="174" y="400.30" width="611" height="1.8"/>
<rect x="239" y="455.20" width="546" height="1.8"/>
<rect x="174" y="510.10" width="611" height="1.8"/>
</g></svg>
</body></html>
